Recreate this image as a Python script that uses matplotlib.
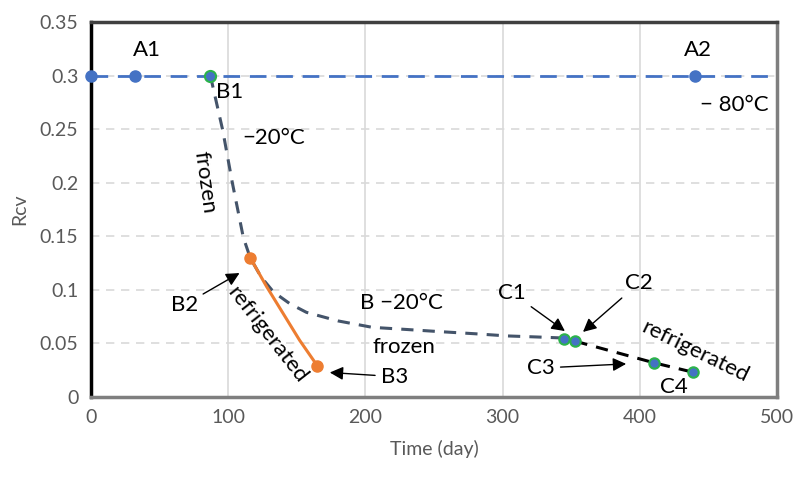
import matplotlib.pyplot as plt

plt.rcParams['font.family'] = ['Lato', 'DejaVu Sans']

# A: -80 C reference line
a_days = [0, 32, 440]
a_rcv = [0.30, 0.30, 0.30]

# B: frozen at -20 C (dashed curve)
b_days = [87, 96, 103, 111, 116, 124, 133, 145, 157, 180, 205, 230, 254, 280, 303, 325, 345]
b_rcv = [0.300, 0.249, 0.200, 0.149, 0.130, 0.112, 0.098, 0.087, 0.079, 0.071, 0.065,
         0.063, 0.061, 0.059, 0.057, 0.056, 0.055]
b_pts_days = [87]
b_pts_rcv = [0.300]

# B2 -> B3 refrigerated
r_days = [116, 128, 140, 152, 165]
r_rcv = [0.130, 0.103, 0.078, 0.053, 0.029]

# C: refrigerated after frozen
c_days = [345, 353, 410, 439]
c_rcv = [0.054, 0.052, 0.032, 0.023]

blue = '#4472C4'
orange = '#ED7D31'
slate = '#44546A'
green = '#2BB34B'

fig = plt.figure(figsize=(7.96, 4.8), dpi=100)
ax = fig.add_axes([0.1143, 0.173, 0.862, 0.781])

ax.plot([0, 500], [0.3, 0.3], color=blue, lw=2, dashes=(6, 3.5), zorder=3)
ax.plot(a_days, a_rcv, 'o', color=blue, ms=8, zorder=5, clip_on=False)
ax.plot(b_days, b_rcv, color=slate, lw=2.2, dashes=(4, 3), zorder=3)
ax.plot(b_pts_days, b_pts_rcv, 'o', color=blue, mec=green, mew=1.5, ms=8, zorder=5)
ax.plot(r_days, r_rcv, color=orange, lw=2.2, zorder=4)
ax.plot([r_days[0], r_days[-1]], [r_rcv[0], r_rcv[-1]], 'o', color=orange, ms=8, zorder=5)
ax.plot(c_days[1:], c_rcv[1:], color='black', lw=2.2, dashes=(4, 3), zorder=3)
ax.plot(c_days, c_rcv, 'o', color=blue, mec=green, mew=1.5, ms=7.5, zorder=5)

ax.set_xlim(0, 500)
ax.set_ylim(0, 0.35)
ax.set_xticks([0, 100, 200, 300, 400, 500])
ax.set_yticks([0, 0.05, 0.1, 0.15, 0.2, 0.25, 0.3, 0.35])
ax.set_yticklabels(['0', '0.05', '0.1', '0.15', '0.2', '0.25', '0.3', '0.35'])
ax.tick_params(length=0, labelsize=14, labelcolor='#595959', pad=9)
ax.xaxis.grid(True, color='#d9d9d9', lw=1.2)
ax.yaxis.grid(True, color='#d9d9d9', lw=1.2, ls=(0, (5, 4)))
ax.set_axisbelow(True)

ax.spines['left'].set_color('black')
ax.spines['left'].set_linewidth(2.5)
ax.spines['top'].set_color('#404040')
ax.spines['top'].set_linewidth(2.5)
ax.spines['right'].set_color('#7f7f7f')
ax.spines['right'].set_linewidth(2.5)
ax.spines['bottom'].set_color('#7f7f7f')
ax.spines['bottom'].set_linewidth(2.5)

ax.set_xlabel('Time (day)', fontsize=14, color='#595959', labelpad=10)
ax.set_ylabel('Rcv', fontsize=14, color='#595959', labelpad=8)

fs = 16
ax.text(41, 0.318, 'A1', fontsize=fs, ha='center')
ax.text(442, 0.318, 'A2', fontsize=fs, ha='center')
ax.text(101, 0.285, 'B1', fontsize=fs, ha='center', va='center')
ax.text(110, 0.242, '\u221220\u00b0C', fontsize=fs, ha='left', va='center')
ax.text(444, 0.273, '\u2212 80\u00b0C', fontsize=fs, ha='left', va='center')
ax.text(83, 0.200, 'frozen', fontsize=fs, ha='center', va='center', rotation=-82)
ax.text(128, 0.058, 'refrigerated', fontsize=fs, ha='center', va='center', rotation=-52)
ax.text(196, 0.088, 'B \u221220\u00b0C', fontsize=fs, ha='left', va='center')
ax.text(205, 0.047, 'frozen', fontsize=fs, ha='left', va='center')
ax.text(440, 0.042, 'refrigerated', fontsize=fs, ha='center', va='center', rotation=-26)
ax.text(425, 0.009, 'C4', fontsize=fs, ha='center', va='center')

arrow = dict(arrowstyle='-|>', color='black', lw=1, mutation_scale=20)
ax.annotate('B2', xy=(110, 0.117), xytext=(68, 0.086), fontsize=fs,
            ha='center', va='center', arrowprops=arrow)
ax.annotate('B3', xy=(172, 0.023), xytext=(221, 0.019), fontsize=fs,
            ha='center', va='center', arrowprops=arrow)
ax.annotate('C1', xy=(347, 0.060), xytext=(307, 0.097), fontsize=fs,
            ha='center', va='center', arrowprops=arrow)
ax.annotate('C2', xy=(357, 0.059), xytext=(399, 0.106), fontsize=fs,
            ha='center', va='center', arrowprops=arrow)
ax.annotate('C3', xy=(392, 0.031), xytext=(328, 0.027), fontsize=fs,
            ha='center', va='center', arrowprops=arrow)

fig.savefig('out.png', dpi=100)
